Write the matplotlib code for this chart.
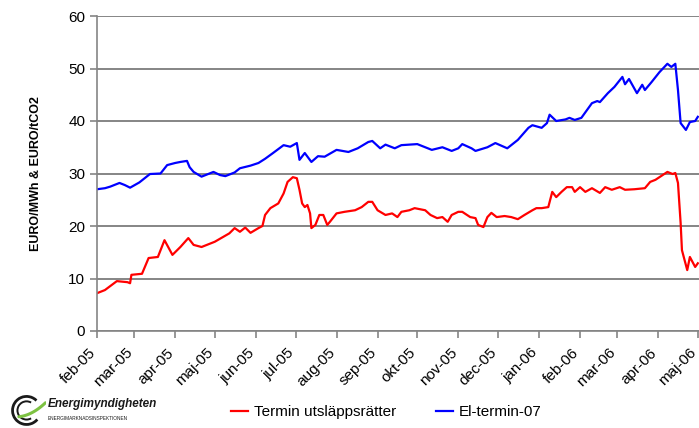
"""Forward prices 2005-2006: emission allowances (EUA) vs. Nordic power El-termin-07."""
import matplotlib
matplotlib.use("Agg")
import matplotlib.dates as mdates
import matplotlib.pyplot as plt
import matplotlib.transforms as mtransforms
import numpy as np
import pandas as pd
from matplotlib.patches import Arc
from matplotlib.ticker import FuncFormatter

plt.rcParams["font.family"] = ["Liberation Sans", "DejaVu Sans"]

# --- data (days counted from START) ---------------------------------------
START = pd.Timestamp("2005-02-01")

EL_DAYS = [0, 6, 10, 17, 21, 25, 32, 40, 48, 53, 59, 63, 68, 70, 73, 79, 85, 88,
           93, 97, 104, 108, 116, 122, 127, 133, 141, 146, 151, 153, 157, 162, 167,
           172, 181, 190, 197, 205, 208, 214, 218, 225, 230, 242, 253, 261, 268, 273,
           276, 283, 286, 295, 301, 310, 318, 326, 329, 336, 340, 342, 347, 354, 357,
           361, 366, 374, 378, 380, 386, 391, 397, 399, 402, 408, 412, 414, 419, 425,
           431, 434, 437, 439, 441, 445, 448, 452, 454]
EL_VALUES = [27.0, 27.2, 27.5, 28.2, 27.8, 27.3, 28.3, 29.9, 30.0, 31.6, 32.0, 32.2,
             32.4, 31.2, 30.3, 29.4, 30.0, 30.3, 29.7, 29.5, 30.2, 31.0, 31.5, 32.0,
             32.8, 33.9, 35.4, 35.1, 35.8, 32.6, 33.9, 32.2, 33.3, 33.2, 34.5, 34.1,
             34.8, 36.0, 36.2, 34.8, 35.5, 34.8, 35.4, 35.6, 34.5, 35.0, 34.3, 34.8,
             35.6, 34.8, 34.3, 35.0, 35.8, 34.8, 36.4, 38.7, 39.2, 38.7, 39.6, 41.2,
             40.0, 40.3, 40.6, 40.2, 40.6, 43.4, 43.8, 43.6, 45.3, 46.5, 48.4, 47.0,
             48.0, 45.3, 46.9, 45.9, 47.4, 49.3, 50.9, 50.3, 50.9, 45.9, 39.6, 38.3,
             39.8, 40.0, 40.8]

EUA_DAYS = [0, 6, 15, 23, 25, 26, 34, 39, 46, 51, 57, 63, 69, 73, 79, 87, 89, 100,
            104, 108, 112, 116, 122, 125, 127, 131, 137, 141, 144, 148, 151, 153, 155,
            157, 159, 161, 162, 165, 168, 171, 174, 176, 181, 187, 195, 200, 205, 208,
            212, 218, 223, 227, 230, 236, 240, 248, 252, 257, 261, 265, 268, 273, 276,
            282, 286, 288, 292, 295, 298, 302, 308, 313, 318, 323, 329, 332, 336, 341,
            344, 347, 351, 355, 359, 361, 365, 369, 374, 380, 384, 389, 395, 399, 406,
            414, 418, 422, 425, 431, 435, 437, 439, 441, 442, 446, 448, 452, 454]
EUA_VALUES = [7.2, 7.8, 9.5, 9.3, 9.1, 10.7, 10.9, 13.9, 14.1, 17.3, 14.5, 16.0, 17.7,
              16.4, 16.0, 16.8, 17.0, 18.6, 19.6, 18.9, 19.7, 18.7, 19.6, 20.0, 22.1,
              23.4, 24.3, 26.2, 28.4, 29.3, 29.1, 26.9, 24.3, 23.6, 24.0, 22.4, 19.6,
              20.2, 22.1, 22.1, 20.2, 20.8, 22.4, 22.7, 23.0, 23.6, 24.6, 24.6, 23.0,
              22.1, 22.4, 21.7, 22.7, 23.0, 23.4, 23.0, 22.1, 21.5, 21.7, 20.8, 22.1,
              22.7, 22.7, 21.7, 21.5, 20.2, 19.8, 21.7, 22.5, 21.7, 21.9, 21.7, 21.3,
              22.1, 23.0, 23.4, 23.4, 23.6, 26.5, 25.5, 26.5, 27.4, 27.4, 26.5, 27.4,
              26.5, 27.2, 26.3, 27.4, 26.9, 27.4, 26.9, 27.0, 27.2, 28.4, 28.8, 29.3,
              30.3, 29.9, 30.1, 28.2, 20.6, 15.4, 11.6, 14.1, 12.2, 12.9]

MONTHS_SV = ["jan", "feb", "mar", "apr", "maj", "jun",
             "jul", "aug", "sep", "okt", "nov", "dec"]

GRID = "#858585"


def to_dates(days):
    return START + pd.to_timedelta(np.asarray(days), unit="D")


def month_label(x, pos=None):
    d = mdates.num2date(x)
    return f"{MONTHS_SV[d.month - 1]}-{d.year % 100:02d}"


def draw_logo(fig):
    lax = fig.add_axes([0.010, 0.005, 0.060, 0.072])
    lax.set_xlim(-1.2, 1.4)
    lax.set_ylim(-1.1, 1.1)
    lax.set_aspect("equal")
    lax.axis("off")
    lax.add_patch(Arc((0, 0), 2.0, 2.0, theta1=45, theta2=320, color="#1a1a1a", lw=2.0))
    lax.add_patch(Arc((0, 0), 1.3, 1.3, theta1=60, theta2=300, color="#1a1a1a", lw=1.4))
    t = np.linspace(0, 1, 30)
    lax.plot(-0.55 + 1.9 * t, -0.45 + 0.2 * t + 0.8 * t ** 2, color="#7dc242", lw=2.2,
             solid_capstyle="round")
    fig.text(0.068, 0.055, "Energimyndigheten", fontsize=8.5, style="italic",
             fontweight="bold", color="#1a1a1a", va="center")
    fig.text(0.068, 0.022, "ENERGIMARKNADSINSPEKTIONEN", fontsize=3.4,
             color="#1a1a1a", va="center")


def main():
    fig = plt.figure(figsize=(6.99, 4.28), dpi=100)
    ax = fig.add_axes([97 / 699, 97 / 428, 622 / 699, 315 / 428])

    ax.plot(to_dates(EUA_DAYS), EUA_VALUES, color="#ff0000", lw=1.6,
            label="Termin utsläppsrätter")
    ax.plot(to_dates(EL_DAYS), EL_VALUES, color="#0000ff", lw=1.6, label="El-termin-07")

    ax.set_ylim(0, 60)
    ax.set_yticks(range(0, 61, 10))
    ax.set_xlim(START, START + pd.Timedelta(days=470))
    ax.xaxis.set_major_locator(mdates.MonthLocator())
    ax.xaxis.set_major_formatter(FuncFormatter(month_label))

    ax.yaxis.grid(True, color=GRID, lw=1.4)
    ax.set_axisbelow(True)
    for side in ("top", "right"):
        ax.spines[side].set_visible(False)
    for side in ("left", "bottom"):
        ax.spines[side].set_color(GRID)
        ax.spines[side].set_linewidth(1.2)
    ax.tick_params(axis="both", colors=GRID, length=5, width=1.2, labelcolor="black",
                   labelsize=11)
    # rotated month labels sit a little left of their tick, as in the original
    shift = mtransforms.ScaledTranslation(-6 / 72, -2 / 72, fig.dpi_scale_trans)
    for lbl in ax.get_xticklabels():
        lbl.set_rotation(45)
        lbl.set_ha("right")
        lbl.set_rotation_mode("anchor")
        lbl.set_transform(lbl.get_transform() + shift)

    ax.set_ylabel("EURO/MWh & EURO/tCO2", fontsize=9, fontweight="bold")
    ax.yaxis.set_label_coords(-0.088, 0.5)

    fig.legend(loc="center", bbox_to_anchor=(0.553, 0.037), ncol=2, frameon=False,
               fontsize=11, handlelength=1.1, handletextpad=0.4, columnspacing=2.6)

    draw_logo(fig)
    fig.savefig("out.png", dpi=100)


if __name__ == "__main__":
    main()
